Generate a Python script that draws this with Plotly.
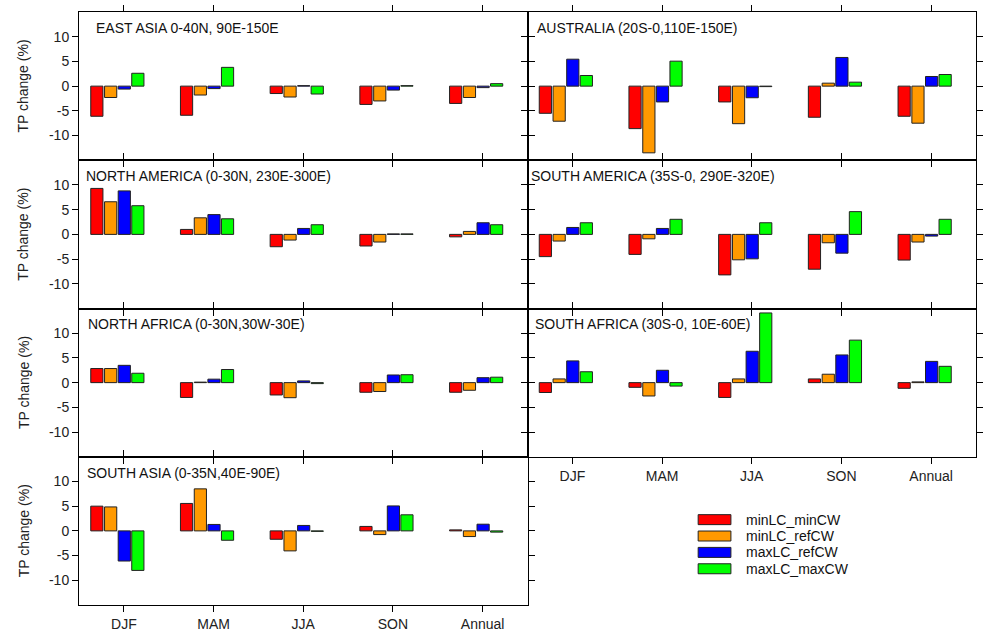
import plotly.graph_objects as go
from plotly.subplots import make_subplots

# ---------------- data ----------------
SEASONS = ["DJF", "MAM", "JJA", "SON", "Annual"]
SERIES = ["minLC_minCW", "minLC_refCW", "maxLC_refCW", "maxLC_maxCW"]
COLORS = ["#FF0000", "#FF9900", "#0000FF", "#00FF00"]
Y_TICKS = [10, 5, 0, -5, -10]
Y_TICK_TEXT = ["10", "5", "0", "-5", "-10"]
Y_TITLE = "TP change (%)"

# each region: one row per series (SERIES order), one value per season
EAST_ASIA = [
    [-6.1, -5.9, -1.5, -3.7, -3.5],
    [-2.3, -1.8, -2.2, -3.0, -2.3],
    [-0.6, -0.5, 0.1, -0.8, -0.3],
    [2.6, 3.8, -1.6, 0.1, 0.5],
]
AUSTRALIA = [
    [-5.5, -8.6, -3.2, -6.3, -6.1],
    [-7.1, -13.5, -7.6, 0.6, -7.5],
    [5.45, -3.2, -2.35, 5.8, 1.95],
    [2.15, 5.05, -0.1, 0.8, 2.35],
]
NORTH_AMERICA = [
    [9.3, 1.0, -2.5, -2.35, -0.5],
    [6.6, 3.35, -1.15, -1.55, 0.6],
    [8.8, 4.0, 1.2, 0.1, 2.35],
    [5.8, 3.15, 1.95, 0.1, 1.95],
]
SOUTH_AMERICA = [
    [-4.5, -4.05, -8.2, -7.05, -5.2],
    [-1.35, -0.9, -5.15, -1.7, -1.55],
    [1.4, 1.2, -4.95, -3.8, -0.35],
    [2.35, 3.05, 2.35, 4.6, 3.05],
]
NORTH_AFRICA = [
    [2.85, -3.0, -2.5, -1.95, -1.95],
    [2.85, 0.1, -3.05, -1.8, -1.55],
    [3.5, 0.7, 0.35, 1.55, 1.0],
    [1.9, 2.65, -0.2, 1.6, 1.1],
]
SOUTH_AFRICA = [
    [-2.0, -0.95, -3.0, 0.75, -1.15],
    [0.75, -2.7, 0.75, 1.7, 0.15],
    [4.4, 2.5, 6.35, 5.6, 4.3],
    [2.2, -0.7, 14.1, 8.6, 3.3],
]
SOUTH_ASIA = [
    [5.0, 5.55, -1.7, 0.9, 0.2],
    [4.85, 8.5, -4.05, -0.75, -1.15],
    [-6.1, 1.3, 1.1, 5.05, 1.35],
    [-8.0, -1.9, -0.1, 3.25, -0.25],
]

PANELS = [
    # (title, data, row, col, title x-offset px)
    ("EAST ASIA 0-40N, 90E-150E", EAST_ASIA, 1, 1, 15),
    ("AUSTRALIA (20S-0,110E-150E)", AUSTRALIA, 1, 2, 8),
    ("NORTH AMERICA (0-30N, 230E-300E)", NORTH_AMERICA, 2, 1, 5),
    ("SOUTH AMERICA (35S-0, 290E-320E)", SOUTH_AMERICA, 2, 2, 2),
    ("NORTH AFRICA (0-30N,30W-30E)", NORTH_AFRICA, 3, 1, 7),
    ("SOUTH AFRICA (30S-0, 10E-60E)", SOUTH_AFRICA, 3, 2, 6),
    ("SOUTH ASIA (0-35N,40E-90E)", SOUTH_ASIA, 4, 1, 6),
]

# ---------------- layout helpers ----------------
FONT = "Liberation Sans, Arial, sans-serif"
L, T, W, H = 79, 12, 904, 594  # plot area inside the figure
FIG_W, FIG_H = 985, 634


def px(x):
    """screen x -> paper x"""
    return (x - L) / W


def py(y):
    """screen y -> paper y"""
    return (T + H - y) / H


OFFSETS = [-0.369, -0.215, -0.063, 0.088]
BAR_W = 0.136

fig = make_subplots(
    rows=4, cols=2, horizontal_spacing=0, vertical_spacing=0,
    specs=[[{}, {}], [{}, {}], [{}, {}], [{}, None]],
)

annotations = []
for title, data, r, c, dx in PANELS:
    for i, name in enumerate(SERIES):
        fig.add_trace(
            go.Bar(
                x=SEASONS, y=data[i], name=name,
                marker=dict(color=COLORS[i], line=dict(color="#222222", width=1)),
                offset=OFFSETS[i], width=BAR_W, showlegend=False,
            ),
            row=r, col=c,
        )
    show_x = (r == 4 and c == 1) or (r == 3 and c == 2)
    fig.update_xaxes(
        type="category", range=[-0.5, 4.5],
        showline=True, linecolor="black", linewidth=1, mirror="ticks",
        ticks="outside", ticklen=6, tickcolor="black", tickwidth=1,
        showgrid=False, zeroline=False,
        showticklabels=show_x,
        tickfont=dict(family=FONT, size=14, color="#222222"),
        row=r, col=c,
    )
    fig.update_yaxes(
        range=[-15, 15], tickvals=Y_TICKS, ticktext=Y_TICK_TEXT,
        showline=True, linecolor="black", linewidth=1, mirror="ticks",
        ticks="outside", ticklen=6, tickcolor="black", tickwidth=1,
        showgrid=False, zeroline=False,
        showticklabels=(c == 1),
        tickfont=dict(family=FONT, size=14, color="#222222"),
        row=r, col=c,
    )
    col_left = L + (0 if c == 1 else W / 2)
    panel_top = T + (r - 1) * H / 4
    annotations.append(dict(
        text=title, xref="paper", yref="paper",
        x=px(col_left + dx), y=py(panel_top + 16),
        xanchor="left", yanchor="middle", showarrow=False,
        font=dict(family=FONT, size=14, color="#111111"),
    ))
    if c == 1:
        annotations.append(dict(
            text=Y_TITLE, xref="paper", yref="paper",
            x=px(23), y=py(panel_top + H / 8),
            xanchor="center", yanchor="middle", textangle=-90, showarrow=False,
            font=dict(family=FONT, size=14, color="#222222"),
        ))

# manual legend (wide rectangular swatches)
shapes = []
for i, name in enumerate(SERIES):
    top = 515.5 + i * 16.4
    shapes.append(dict(
        type="rect", xref="paper", yref="paper",
        x0=px(703), x1=px(736), y0=py(top + 10), y1=py(top),
        fillcolor=COLORS[i], line=dict(color="#222222", width=1),
    ))
    annotations.append(dict(
        text=name, xref="paper", yref="paper",
        x=px(749), y=py(top + 5), xanchor="left", yanchor="middle",
        showarrow=False, font=dict(family=FONT, size=14, color="#111111"),
    ))

fig.update_layout(
    width=FIG_W, height=FIG_H,
    margin=dict(l=L, r=FIG_W - L - W, t=T, b=FIG_H - T - H),
    paper_bgcolor="white", plot_bgcolor="white",
    barmode="overlay", showlegend=False, hovermode=False,
    annotations=annotations, shapes=shapes,
)

fig.write_html(
    "out.html",
    config={"displayModeBar": False, "staticPlot": True},
    post_script="document.body.style.margin='0';document.body.style.overflow='hidden';",
)
